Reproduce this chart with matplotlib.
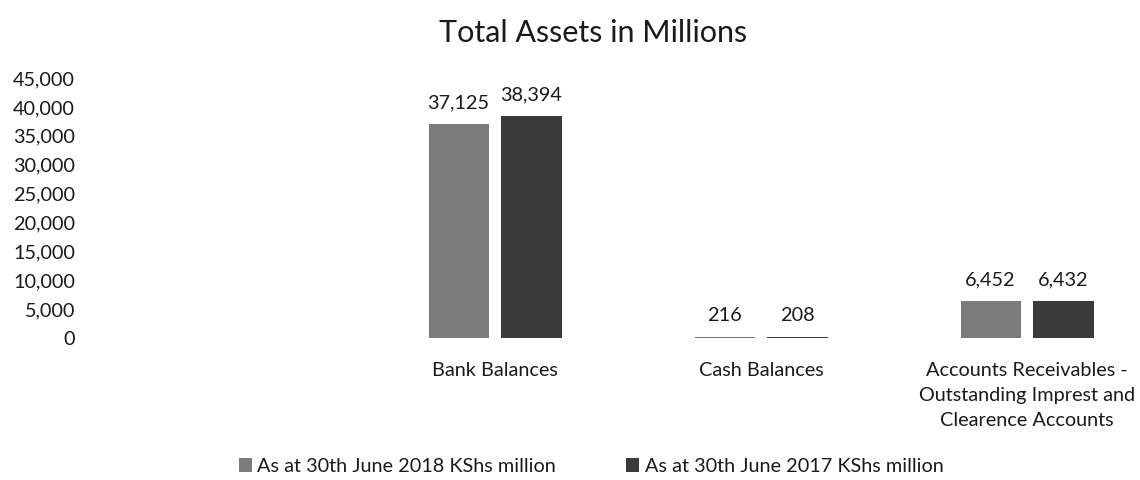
import matplotlib
matplotlib.use("Agg")
import matplotlib.pyplot as plt
from matplotlib.ticker import FuncFormatter

plt.rcParams["font.family"] = ["Lato", "DejaVu Sans"]

# data
categories = ["Bank Balances", "Cash Balances",
              "Accounts Receivables -\nOutstanding Imprest and\nClearence Accounts"]
series_names = ["As at 30th June 2018 KShs million",
                "As at 30th June 2017 KShs million"]
values_2018 = [37125, 216, 6452]
values_2017 = [38394, 208, 6432]
y_ticks = list(range(0, 45001, 5000))

colors = ["#7b7b7b", "#3a3a3a"]
fs = 14.3

fig = plt.figure(figsize=(11.4, 4.8), dpi=100)
ax = fig.add_axes([96 / 1140, 142 / 480, 1 - 96 / 1140, 260 / 480])

x = list(range(len(categories)))
w = 0.226
off = 0.137
b1 = ax.bar([i - off for i in x], values_2018, width=w, color=colors[0], label=series_names[0])
b2 = ax.bar([i + off for i in x], values_2017, width=w, color=colors[1], label=series_names[1])
for b in (b1, b2):
    ax.bar_label(b, labels=[f"{v:,}" for v in b.datavalues], padding=9,
                 fontsize=fs, color="#1a1a1a")

ax.set_xlim(-1.5, -1.5 + 1044 / 266)
ax.set_ylim(0, 45000)
ax.set_yticks(y_ticks)
ax.yaxis.set_major_formatter(FuncFormatter(lambda v, p: f"{int(v):,}"))
ax.set_xticks(x)
ax.set_xticklabels(categories)
ax.tick_params(axis="both", length=0, labelsize=fs, colors="#1a1a1a")
ax.tick_params(axis="x", pad=17)
ax.tick_params(axis="y", pad=15)
for t in ax.get_xticklabels():
    t.set_linespacing(1.6)
for s in ax.spines.values():
    s.set_visible(False)

fig.text(0.52, 0.932, "Total Assets in Millions", ha="center", va="center",
         fontsize=22, color="#1a1a1a")

fig.legend(loc="center", bbox_to_anchor=(591 / 1140, 0.028), ncol=2, frameon=False,
           fontsize=fs, handlelength=0.65, handleheight=0.65, handletextpad=0.3,
           columnspacing=3.5, labelcolor="#1a1a1a")

fig.savefig("out.png", dpi=100)
